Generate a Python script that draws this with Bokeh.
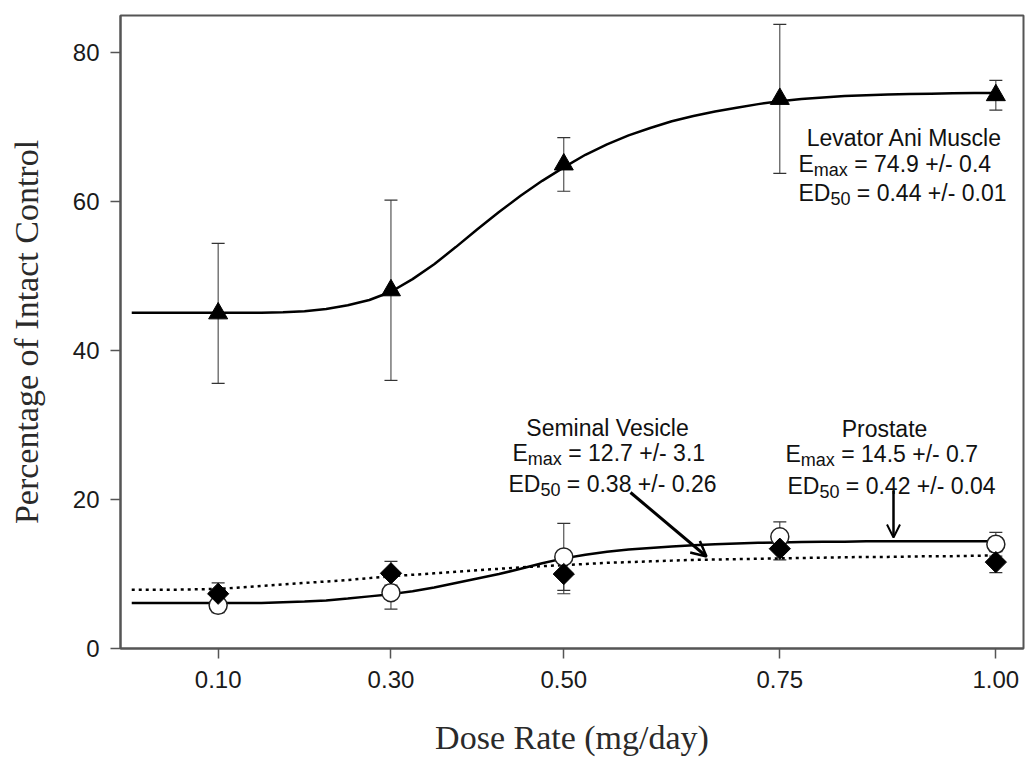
import numpy as np
from bokeh.plotting import figure
from bokeh.models import (Range1d, ColumnDataSource, Whisker, TeeHead, Label,
                          Arrow, OpenHead, FixedTicker, NumeralTickFormatter)
from bokeh.embed import file_html
from bokeh.resources import INLINE

# ---------------- data ----------------
dose = [0.10, 0.30, 0.50, 0.75, 1.00]
x_ticks = [0.10, 0.30, 0.50, 0.75, 1.00]
y_ticks = [0, 20, 40, 60, 80]

levator_mean = [45.0, 48.1, 65.0, 73.8, 74.3]
levator_err = [9.4, 12.1, 3.6, 10.0, 2.0]

prostate_mean = [5.8, 7.5, 12.3, 15.0, 14.0]     # open circles
prostate_err = [1.0, 2.2, 4.5, 2.0, 1.6]

vesicle_mean = [7.35, 10.1, 10.0, 13.4, 11.6]    # filled diamonds
vesicle_err = [1.45, 1.6, 2.65, 1.5, 1.4]

curve_dose = [0.000, 0.025, 0.050, 0.075, 0.100, 0.125, 0.150, 0.175, 0.200, 0.225,
              0.250, 0.275, 0.300, 0.325, 0.350, 0.375, 0.400, 0.425, 0.450, 0.475,
              0.500, 0.525, 0.550, 0.575, 0.600, 0.625, 0.650, 0.675, 0.700, 0.725,
              0.750, 0.775, 0.800, 0.825, 0.850, 0.875, 0.900, 0.925, 0.950, 0.975,
              1.000]
levator_fit = [45.1, 45.1, 45.1, 45.1, 45.1, 45.1, 45.1, 45.15, 45.3, 45.6,
               46.1, 46.8, 47.9, 49.6, 51.6, 53.9, 56.3, 58.6, 60.8, 62.8,
               64.6, 66.3, 67.7, 68.9, 69.9, 70.8, 71.5, 72.1, 72.6, 73.1,
               73.5, 73.8, 74.0, 74.2, 74.3, 74.4, 74.45, 74.5, 74.55, 74.6,
               74.6]
prostate_fit = [6.1, 6.1, 6.1, 6.1, 6.1, 6.1, 6.1, 6.2, 6.3, 6.45,
                6.7, 7.0, 7.3, 7.7, 8.2, 8.8, 9.4, 10.0, 10.7, 11.45,
                12.1, 12.6, 13.0, 13.3, 13.5, 13.7, 13.85, 14.0, 14.1, 14.2,
                14.25, 14.3, 14.35, 14.35, 14.4, 14.4, 14.4, 14.4, 14.4, 14.4,
                14.4]
vesicle_fit = [7.9, 7.9, 7.9, 7.95, 8.0, 8.2, 8.4, 8.6, 8.8, 9.0,
               9.2, 9.45, 9.7, 9.9, 10.1, 10.3, 10.5, 10.7, 10.9, 11.05,
               11.2, 11.35, 11.5, 11.6, 11.7, 11.8, 11.9, 11.95, 12.0, 12.05,
               12.1, 12.15, 12.2, 12.25, 12.3, 12.3, 12.35, 12.4, 12.4, 12.45,
               12.5]

# ---------------- layout ----------------
X0, X1 = -0.013, 1.032
Y0, Y1 = 0, 85
FL, FT, FR, FB = 120, 15, 1023, 648   # frame edges in page pixels


def px2x(px):
    return X0 + (px - FL) * (X1 - X0) / (FR - FL)


def py2y(py):
    return Y0 + (FB - py) * (Y1 - Y0) / (FB - FT)


p = figure(width=1035, height=760, x_range=Range1d(X0, X1), y_range=Range1d(Y0, Y1),
           output_backend="svg", toolbar_location=None,
           min_border_left=FL, min_border_right=1035 - FR,
           min_border_top=FT, min_border_bottom=760 - FB)
p.xgrid.visible = False
p.ygrid.visible = False
p.background_fill_color = "white"
p.border_fill_color = "white"
p.outline_line_color = "#555555"
p.outline_line_width = 2
p.outline_line_alpha = 1

AX = "#555555"
for ax in (p.xaxis[0], p.yaxis[0]):
    ax.axis_line_color = AX
    ax.axis_line_width = 2
    ax.major_tick_line_color = AX
    ax.major_tick_line_width = 1.5
    ax.major_tick_out = 10
    ax.major_tick_in = 0
    ax.minor_tick_line_color = None
    ax.major_label_text_font = "Liberation Sans"
    ax.major_label_text_font_size = "24px"
    ax.major_label_text_color = "#1a1a1a"
    ax.axis_label_text_font = "Liberation Serif"
    ax.axis_label_text_font_size = "34px"
    ax.axis_label_text_font_style = "normal"
    ax.axis_label_text_color = "#2a2a2a"

p.xaxis.ticker = FixedTicker(ticks=x_ticks)
p.xaxis.formatter = NumeralTickFormatter(format="0.00")
p.xaxis.major_label_standoff = 12
p.xaxis.axis_label = "Dose Rate (mg/day)"
p.xaxis.axis_label_standoff = 28

p.yaxis.ticker = FixedTicker(ticks=y_ticks)
p.yaxis.major_label_standoff = 11
p.yaxis.axis_label = "Percentage of Intact Control"
p.yaxis.axis_label_standoff = 25

# ---------------- fitted curves ----------------
p.line(curve_dose, levator_fit, line_color="black", line_width=2.5)
p.line(curve_dose, prostate_fit, line_color="black", line_width=2.5)
p.line(curve_dose, vesicle_fit, line_color="black", line_width=2.5, line_dash="3 4")

# ---------------- error bars ----------------
ERR = "#333333"


def add_whisker(mean, err):
    src = ColumnDataSource(dict(x=dose,
                                upper=[m + e for m, e in zip(mean, err)],
                                lower=[m - e for m, e in zip(mean, err)]))
    w = Whisker(source=src, base="x", upper="upper", lower="lower",
                line_color=ERR, line_width=1,
                upper_head=TeeHead(size=13, line_color=ERR, line_width=1.2),
                lower_head=TeeHead(size=13, line_color=ERR, line_width=1.2))
    p.add_layout(w)


add_whisker(levator_mean, levator_err)
add_whisker(prostate_mean, prostate_err)
add_whisker(vesicle_mean, vesicle_err)

# ---------------- markers ----------------
p.scatter(dose, prostate_mean, marker="circle", size=18, fill_color="white",
          line_color="#222222", line_width=1.5)
p.scatter(dose, vesicle_mean, marker="square", angle=np.pi / 4, size=15,
          fill_color="black", line_color="black")
p.scatter(dose, levator_mean, marker="triangle", size=19,
          fill_color="black", line_color="black")

# ---------------- annotations ----------------
FONT = "Liberation Sans"
MAIN = 23
SUB = 18
TXT = "#111111"


def lab(px, py, text, size=MAIN, align="left"):
    p.add_layout(Label(x=px2x(px), y=py2y(py), text=text, text_font=FONT,
                       text_font_size=f"{size}px", text_color=TXT,
                       text_align=align, text_baseline="alphabetic"))


W_E = 0.667 * MAIN
W_ED = (0.667 + 0.722) * MAIN
W_MAX = (0.833 + 0.556 + 0.500) * SUB
W_50 = (0.556 + 0.556) * SUB
W_SP = 0.278 * MAIN


def block(title, cx, left2, left3, b1, b2, b3, emax, ed50):
    lab(cx, b1, title, align="center")
    lab(left2, b2, "E")
    lab(left2 + W_E, b2 + 6, "max", size=SUB)
    lab(left2 + W_E + W_MAX + W_SP, b2, "= " + emax)
    lab(left3, b3, "ED")
    lab(left3 + W_ED, b3 + 6, "50", size=SUB)
    lab(left3 + W_ED + W_50 + W_SP, b3, "= " + ed50)


block("Levator Ani Muscle", 904, 798, 798, 137, 163, 192,
      "74.9 +/- 0.4", "0.44 +/- 0.01")
block("Seminal Vesicle", 607, 512, 508, 427, 452, 483,
      "12.7 +/- 3.1", "0.38 +/- 0.26")
block("Prostate", 884, 785, 787, 428, 453, 485,
      "14.5 +/- 0.7", "0.42 +/- 0.04")

p.add_layout(Arrow(end=OpenHead(size=15, line_width=2.5, line_color="black"),
                   x_start=px2x(630), y_start=py2y(492),
                   x_end=px2x(706), y_end=py2y(556),
                   line_color="black", line_width=3))
p.add_layout(Arrow(end=OpenHead(size=13, line_width=2, line_color="black"),
                   x_start=px2x(893), y_start=py2y(490),
                   x_end=px2x(893), y_end=py2y(537),
                   line_color="black", line_width=2.5))

open("out.html", "w").write(file_html(p, INLINE))
